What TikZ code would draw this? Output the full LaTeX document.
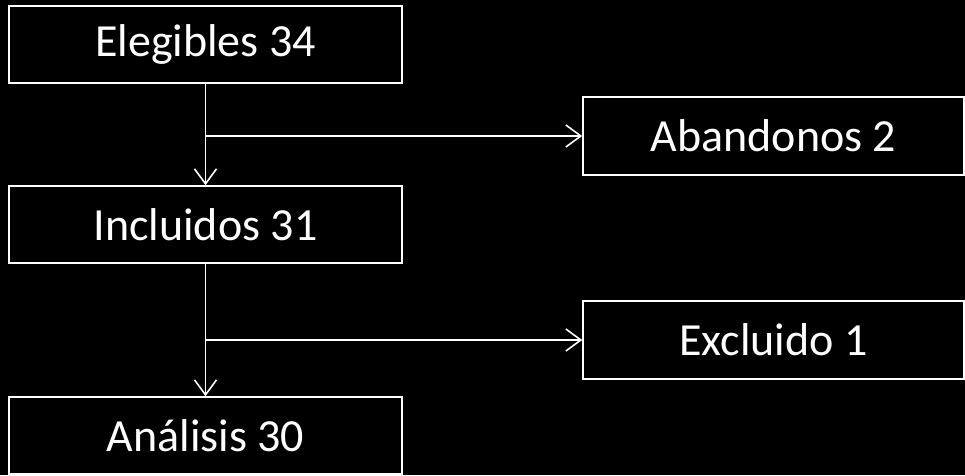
\documentclass[tikz,border=0pt]{standalone}
\usepackage{fontspec}
\setmainfont{Carlito}
\usetikzlibrary{arrows.meta}
\begin{document}
\begin{tikzpicture}[x=1pt,y=-1pt,
  box/.style={draw=white, line width=1.6pt, fill=black, text=white, inner sep=0pt,
    font=\fontsize{46}{50}\selectfont},
  conn/.style={draw=white, line width=1.6pt},
  arr/.style={conn, -{Straight Barb[length=15pt,width=22pt,line width=1.6pt]}}]
\fill[black] (0,0) rectangle (965,475);
\useasboundingbox (0,0) rectangle (965,475);
\node[box, minimum width=393pt, minimum height=77pt] (eleg) at (205.5,44.5) {Elegibles 34};
\node[box, minimum width=393pt, minimum height=77pt] (incl) at (205.5,224.5) {Incluidos 31};
\node[box, minimum width=393pt, minimum height=77pt] (anal) at (205.5,435.5) {Análisis 30};
\node[box, minimum width=381pt, minimum height=78pt] (aban) at (773.5,136) {Abandonos 2};
\node[box, minimum width=381pt, minimum height=78pt] (excl) at (773.5,340) {Excluido 1};
\draw[arr] (eleg.south) -- (incl.north);
\draw[arr] (incl.south) -- (anal.north);
\coordinate (b1) at (eleg.south |- aban.west);
\coordinate (b2) at (incl.south |- excl.west);
\draw[arr] (b1) -- (aban.west);
\draw[arr] (b2) -- (excl.west);
\end{tikzpicture}
\end{document}
